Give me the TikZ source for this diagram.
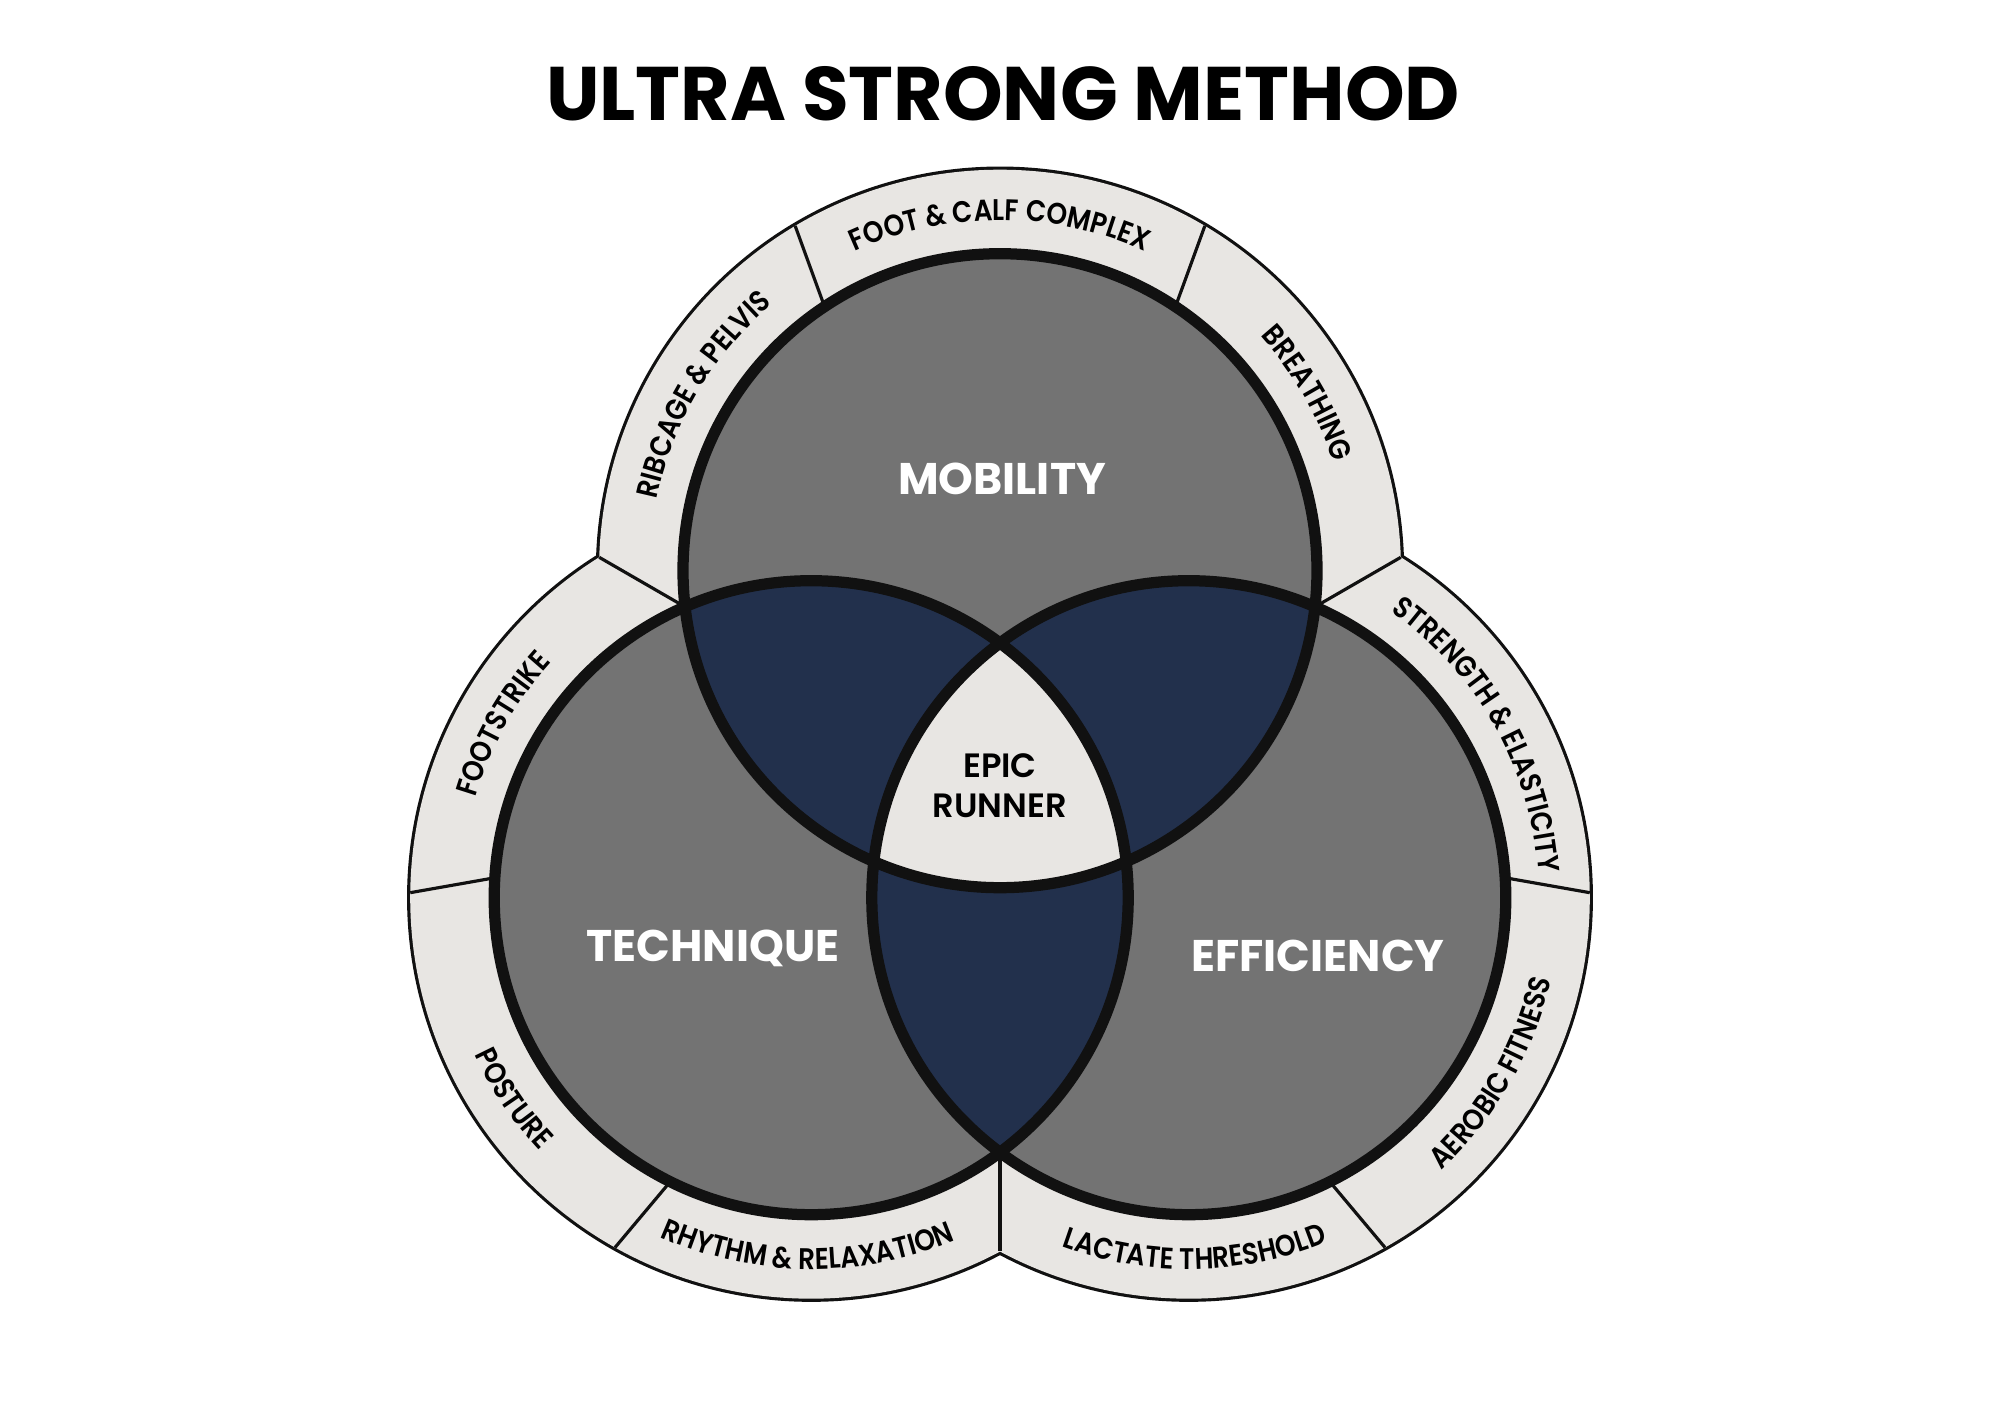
\documentclass[tikz,border=0pt]{standalone}
\usepackage{fontspec}
\setmainfont{Poppins}
\newfontfamily\medfont{Poppins SemiBold}
\newfontfamily\ringface{Poppins SemiBold}[FakeStretch=0.88]
\usetikzlibrary{calc,decorations.text}

\definecolor{ringgray}{HTML}{E8E6E3}
\definecolor{circlegray}{HTML}{737373}
\definecolor{lensnavy}{HTML}{22304C}
\definecolor{edgeblack}{HTML}{111111}

\newcommand{\ringfont}{\ringface\fontsize{8.5}{10}\selectfont}

\tikzset{
	ringtext/.style={decorate,decoration={text along path,text align=center,text={|\ringfont|#1}}},
	ringline/.style={draw=edgeblack,line width=0.9pt},
	bigname/.style={text=white,font=\bfseries\fontsize{12.6}{15}\selectfont,inner sep=0pt,anchor=base}
}

\begin{document}
\begin{tikzpicture}
		\useasboundingbox (0,0) rectangle (20,14.14);
		\coordinate (O) at (10,6.253);
		\coordinate (mob) at ($(O)+(90:2.18)$);
		\coordinate (tec) at ($(O)+(210:2.18)$);
		\coordinate (eff) at ($(O)+(330:2.18)$);
		% outer ring
		\foreach \c in {mob,tec,eff}
			\draw[edgeblack,line width=1.8pt] (\c) circle (4.01);
		\foreach \c in {mob,tec,eff}
			\fill[ringgray] (\c) circle (4.01);
		% dividing lines, every 40 degrees round O
		\foreach \th/\ph in {30/90,70/90,110/90,150/90,190/210,230/210,270/210,310/330,350/330}{
			\pgfmathparse{2.18*cos(\th-\ph)+sqrt(3.17^2-(2.18*sin(\th-\ph))^2)}
			\edef\lenin{\pgfmathresult}
			\pgfmathparse{2.18*cos(\th-\ph)+sqrt(4.01^2-(2.18*sin(\th-\ph))^2)}
			\edef\lenout{\pgfmathresult}
			\draw[ringline] ($(O)+(\th:\lenin)$) -- ($(O)+(\th:\lenout)$);
		}
		% inner circles
		\foreach \c in {mob,tec,eff}
			\fill[circlegray] (\c) circle (3.17);
		\begin{scope}
			\clip (mob) circle (3.17);
			\fill[lensnavy] (tec) circle (3.17);
			\fill[lensnavy] (eff) circle (3.17);
		\end{scope}
		\begin{scope}
			\clip (tec) circle (3.17);
			\fill[lensnavy] (eff) circle (3.17);
			\clip (mob) circle (3.17);
			\fill[ringgray] (eff) circle (3.17);
		\end{scope}
		\foreach \c in {mob,tec,eff}
			\draw[edgeblack,line width=3.2pt] (\c) circle (3.17);
		% ring labels
		\path[ringtext={FOOT {\&} CALF COMPLEX}] (mob) ++(130:3.505) arc[start angle=130,end angle=50,radius=3.505];
		\path[ringtext={BREATHING}] (mob) ++(70:3.505) arc[start angle=70,end angle=-10,radius=3.505];
		\path[ringtext={RIBCAGE {\&} PELVIS}] (mob) ++(189.4:3.505) arc[start angle=189.4,end angle=109.4,radius=3.505];
		\path[ringtext={FOOTSTRIKE}] (tec) ++(190.6:3.505) arc[start angle=190.6,end angle=110.6,radius=3.505];
		\path[ringtext={POSTURE}] (tec) ++(174:3.715) arc[start angle=174,end angle=254,radius=3.715];
		\path[ringtext={RHYTHM {\&} RELAXATION}] (tec) ++(229.4:3.715) arc[start angle=229.4,end angle=309.4,radius=3.715];
		\path[ringtext={LACTATE THRESHOLD}] (eff) ++(231:3.715) arc[start angle=231,end angle=311,radius=3.715];
		\path[ringtext={AEROBIC FITNESS}] (eff) ++(290:3.715) arc[start angle=290,end angle=370,radius=3.715];
		\path[ringtext={STRENGTH {\&} ELASTICITY}] (eff) ++(69.4:3.505) arc[start angle=69.4,end angle=-10.6,radius=3.505];
		% names
		\node[font=\bfseries\fontsize{21.6}{26}\selectfont,inner sep=0pt,anchor=base] (title) at (10.03,12.93) {ULTRA STRONG METHOD};
		\node[bigname] (mobility) at (10.02,9.19) {MOBILITY};
		\node[bigname] (technique) at (7.13,4.52) {TECHNIQUE};
		\node[bigname] (efficiency) at (13.18,4.42) {EFFICIENCY};
		\node[font=\medfont\fontsize{9.6}{11.4}\selectfont,align=center,inner sep=0pt] (epic) at (10,6.28) {EPIC\\RUNNER};
	\end{tikzpicture}
\end{document}
